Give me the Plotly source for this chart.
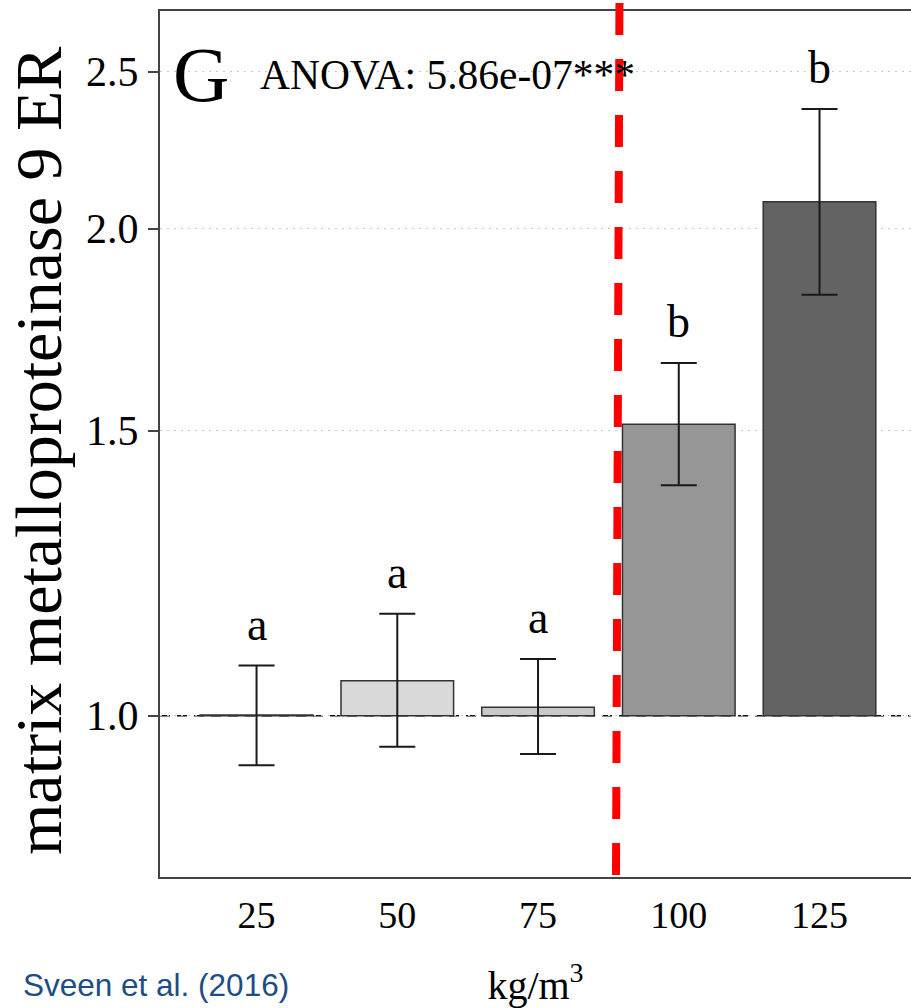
import numpy as np
import plotly.graph_objects as go

# ---- data ----
categories = ["25", "50", "75", "100", "125"]
means = [1.001, 1.051, 1.012, 1.514, 2.078]
err_upper = [1.074, 1.156, 1.084, 1.652, 2.371]
err_lower = [0.932, 0.957, 0.947, 1.388, 1.820]
letters = ["a", "a", "a", "b", "b"]
bar_colors = ["#e6e6e6", "#d9d9d9", "#c9c9c9", "#969696", "#636363"]
y_ticks = [1.0, 1.5, 2.0, 2.5]
baseline = 1.0

means_a = np.array(means)
up_a = np.array(err_upper)
lo_a = np.array(err_lower)

SERIF = "Liberation Serif, Times New Roman, serif"

fig = go.Figure()
fig.add_trace(go.Bar(
    x=categories,
    y=means_a - baseline,
    base=baseline,
    width=0.8,
    marker=dict(color=bar_colors, line=dict(color="#333333", width=1.5)),
    error_y=dict(type="data", symmetric=False,
                 array=up_a - means_a, arrayminus=means_a - lo_a,
                 color="#1a1a1a", thickness=2, width=18),
    showlegend=False,
    hoverinfo="skip",
))

# significance letters above the error bars
for i, (u, l) in enumerate(zip(err_upper, letters)):
    fig.add_annotation(x=i, y=float(np.log10(u)), xref="x", yref="y", text=l,
                       showarrow=False, yanchor="bottom", yshift=14,
                       font=dict(family=SERIF, size=46, color="black"))

# reference line at 1.0 (above grid, below bars): white mask then black dashes
fig.add_shape(type="line", xref="x domain", x0=0, x1=1, yref="y",
              y0=baseline, y1=baseline, layer="below",
              line=dict(color="white", width=3))
fig.add_shape(type="line", xref="x domain", x0=0, x1=1, yref="y",
              y0=baseline, y1=baseline, layer="below",
              line=dict(color="#111111", width=1.6, dash="10px,7px"))

# y-axis title (rotated)
fig.add_annotation(xref="paper", yref="paper", x=-0.1625, y=0.4919,
                   text="matrix metalloproteinase 9 ER", textangle=-90,
                   showarrow=False, xanchor="center", yanchor="middle",
                   font=dict(family=SERIF, size=66, color="black"))

# panel letter and ANOVA text
fig.add_annotation(xref="paper", yref="paper", x=0.0150, y=0.9270, text="G",
                   showarrow=False, xanchor="left", yanchor="middle",
                   font=dict(family=SERIF, size=78, color="black"))
fig.add_annotation(xref="paper", yref="paper", x=0.1305, y=0.9256,
                   text="ANOVA: 5.86e-07***", showarrow=False,
                   xanchor="left", yanchor="middle",
                   font=dict(family=SERIF, size=41.5, color="black"))

# source credit
fig.add_annotation(xref="paper", yref="paper", x=-0.1853, y=-0.1247,
                   text="Sveen et al. (2016)", showarrow=False,
                   xanchor="left", yanchor="middle",
                   font=dict(family="Liberation Sans, Arial, sans-serif", size=31.5,
                             color="#1c4d83"))

# red dashed divider
fig.add_shape(type="line", xref="paper", yref="paper",
              x0=0.6118, y0=1.0092, x1=0.6072, y1=0.0023, layer="above",
              line=dict(color="#ff0000", width=8, dash="32px,24px"))

fig.update_layout(
    width=911, height=1008,
    margin=dict(l=160, r=0, t=11, b=131, autoexpand=False),
    paper_bgcolor="white", plot_bgcolor="white",
    bargap=0.2,
    xaxis=dict(
        type="category", range=[-0.686, 4.65], automargin=False,
        showline=True, linecolor="#444444", linewidth=2, mirror=True,
        ticks="", showgrid=False, zeroline=False,
        tickfont=dict(family=SERIF, size=38, color="black"),
        ticklabelstandoff=3,
        title=dict(text="kg/m<sup>3</sup>", font=dict(family=SERIF, size=40, color="black"),
                   standoff=37),
    ),
    yaxis=dict(
        type="log", range=[float(np.log10(0.795)), float(np.log10(2.7256))], automargin=False,
        showline=True, linecolor="#444444", linewidth=2, mirror=False,
        ticks="outside", ticklen=10, tickwidth=1.5, tickcolor="#444444",
        tickvals=y_ticks, ticktext=[f"{v:.1f}" for v in y_ticks],
        tickfont=dict(family=SERIF, size=42, color="black"),
        ticklabelstandoff=1,
        showgrid=True, gridcolor="#c8c8c8", gridwidth=1.3, griddash="2px,5px",
        zeroline=False,
    ),
)

fig.write_html("out.html", config={"displayModeBar": False},
               post_script="document.body.style.margin='0';document.body.style.overflow='hidden';")
